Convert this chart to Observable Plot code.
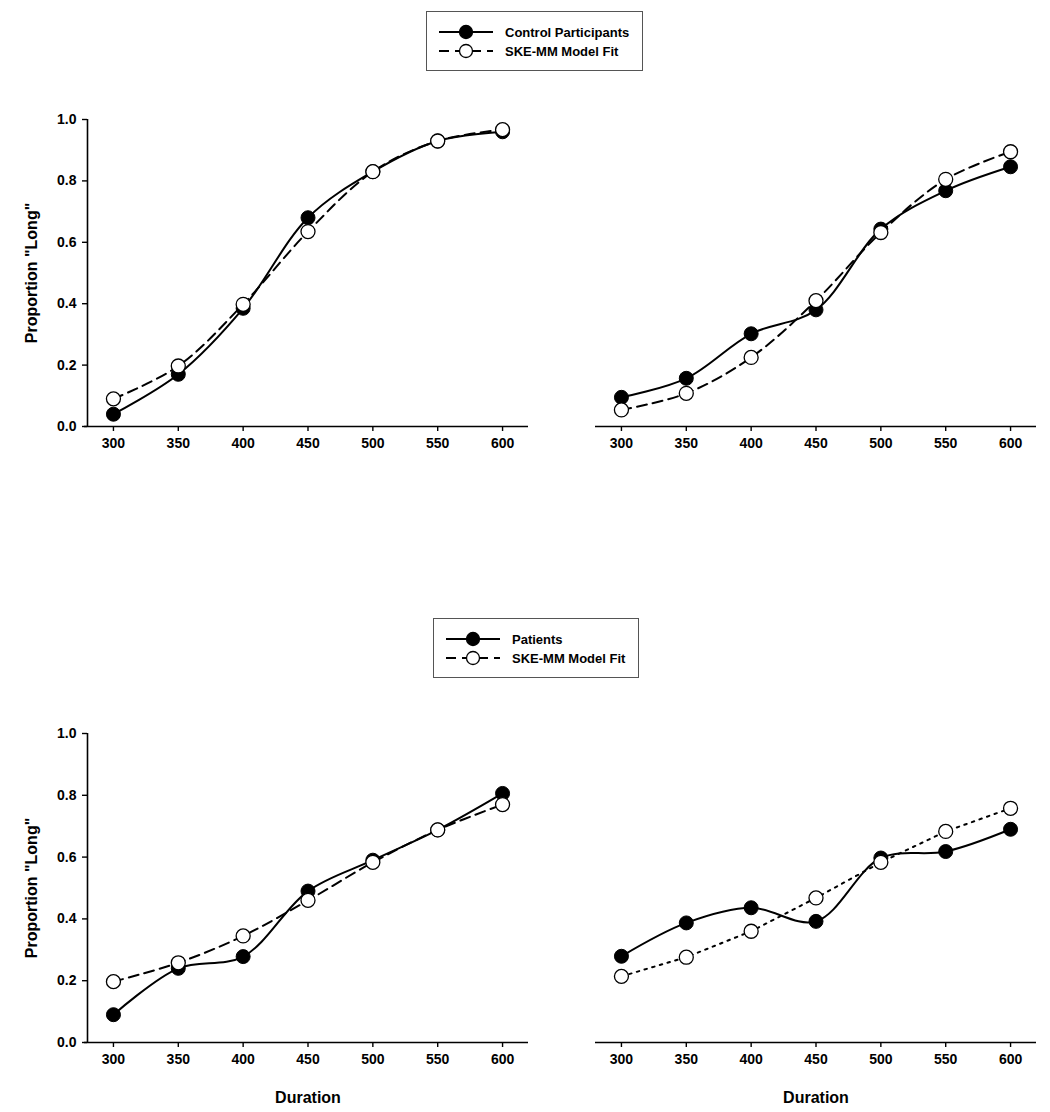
<!DOCTYPE html>
<html>
<head>
<meta charset="utf-8">
<script src="https://cdn.jsdelivr.net/npm/d3@7"></script>
<script src="https://cdn.jsdelivr.net/npm/@observablehq/plot@0.6"></script>
<style>
  html, body { margin: 0; padding: 0; background: #fff; }
  #root { position: relative; width: 1050px; height: 1112px; font-family: "Liberation Sans", Arial, sans-serif; background: #fff; }
  .panel { position: absolute; }
  .legend { position: absolute; border: 1px solid #555; background: #fff; box-sizing: border-box; font-weight: bold; font-size: 13px; color: #000; }
  .legend .row { position: absolute; left: 11px; display: flex; align-items: center; height: 20px; }
  .legend .row span { margin-left: 11px; }
</style>
</head>
<body>
<div id="root"></div>
<script>
// ---- data ----
const durations = [300, 350, 400, 450, 500, 550, 600];
const xTicks = [300, 350, 400, 450, 500, 550, 600];
const yTicks = [0, 0.2, 0.4, 0.6, 0.8, 1.0];

const controlLeft  = [0.040, 0.170, 0.385, 0.680, 0.830, 0.930, 0.960];
const modelCtrlLeft  = [0.090, 0.197, 0.398, 0.635, 0.830, 0.930, 0.967];
const controlRight = [0.095, 0.157, 0.302, 0.380, 0.643, 0.768, 0.846];
const modelCtrlRight = [0.054, 0.108, 0.225, 0.410, 0.632, 0.805, 0.895];

const patientsLeft  = [0.090, 0.240, 0.278, 0.490, 0.590, 0.688, 0.806];
const modelPatLeft  = [0.197, 0.258, 0.345, 0.460, 0.583, 0.688, 0.770];
const patientsRight = [0.279, 0.387, 0.436, 0.392, 0.597, 0.618, 0.690];
const modelPatRight = [0.214, 0.276, 0.360, 0.468, 0.583, 0.683, 0.758];

const legendTop = ["Control Participants", "SKE-MM Model Fit"];
const legendBottom = ["Patients", "SKE-MM Model Fit"];

const yLabel = 'Proportion "Long"';
const xLabel = "Duration";

const toRows = (vals) => durations.map((d, i) => ({ x: d, y: vals[i] }));

const root = document.getElementById("root");

function panel({obs, model, left, top, height, marginTop, marginBottom, showY, showXLabel, modelCurve, modelDash}) {
  const obsRows = toRows(obs);
  const modRows = toRows(model);
  const marks = [
    Plot.ruleY([0], {x1: showY ? 277.7 : 280, x2: 620, stroke: "#000", strokeWidth: 1.6}),
    Plot.axisX({ticks: xTicks, tickSize: 5, tickPadding: 7, tickFormat: d3.format("d"),
      fontSize: 14, fontWeight: "bold", stroke: "#000", strokeWidth: 1.4,
      label: showXLabel ? xLabel : null, labelAnchor: "center", labelArrow: "none", labelOffset: 60}),
    Plot.line(modRows, {x: "x", y: "y", curve: modelCurve, stroke: "#000", strokeWidth: 2, strokeDasharray: modelDash}),
    Plot.line(obsRows, {x: "x", y: "y", curve: "catmull-rom", stroke: "#000", strokeWidth: 2}),
    Plot.dot(obsRows, {x: "x", y: "y", r: 7, fill: "#000", stroke: "#000", strokeWidth: 1}),
    Plot.dot(modRows, {x: "x", y: "y", r: 7, fill: "#fff", stroke: "#000", strokeWidth: 1.3})
  ];
  if (showY) {
    marks.unshift(
      Plot.ruleX([280], {y1: 0, y2: 1, stroke: "#000", strokeWidth: 1.6}),
      Plot.axisY({ticks: yTicks, tickSize: 5, tickPadding: 6, tickFormat: d3.format(".1f"),
        fontSize: 14, fontWeight: "bold", stroke: "#000", strokeWidth: 1.4,
        label: yLabel, labelAnchor: "center", labelArrow: "none", labelOffset: 62})
    );
  }
  const chart = Plot.plot({
    width: 540,
    height,
    marginLeft: 87,
    marginRight: 12,
    marginTop,
    marginBottom,
    style: {fontFamily: '"Liberation Sans", Arial, sans-serif', color: "#000", background: "none", overflow: "visible"},
    x: {domain: [280, 620]},
    y: {domain: [0, 1], axis: showY ? undefined : null},
    marks
  });
  chart.classList.add("panel");
  chart.style.left = left + "px";
  chart.style.top = top + "px";
  root.appendChild(chart);
  chart.querySelectorAll('g[aria-label="y-axis label"], g[aria-label="x-axis label"]').forEach(g => {
    g.setAttribute("font-size", 16);
    g.setAttribute("font-weight", "bold");
  });
}

function legend(items, left, top, width, height) {
  const div = document.createElement("div");
  div.className = "legend";
  div.style.left = left + "px"; div.style.top = top + "px";
  div.style.width = width + "px"; div.style.height = height + "px";
  items.forEach((label, i) => {
    const row = document.createElement("div");
    row.className = "row";
    row.style.top = (10 + i * 19) + "px";
    const filled = i === 0;
    row.innerHTML = `<svg width="56" height="20"><line x1="1" x2="55" y1="10" y2="10" stroke="#000" stroke-width="2" ${filled ? "" : 'stroke-dasharray="10,6"'}/><circle cx="28" cy="10" r="6.5" fill="${filled ? "#000" : "#fff"}" stroke="#000" stroke-width="1.3"/></svg><span>${label}</span>`;
    div.appendChild(row);
  });
  root.appendChild(div);
}

panel({obs: controlRight, model: modelCtrlRight, left: 508, top: 90, height: 380, marginTop: 29, marginBottom: 44, showY: false, showXLabel: false, modelCurve: "catmull-rom", modelDash: "10,6"});
panel({obs: controlLeft, model: modelCtrlLeft, left: 0, top: 90, height: 380, marginTop: 29, marginBottom: 44, showY: true, showXLabel: false, modelCurve: "catmull-rom", modelDash: "10,6"});
panel({obs: patientsRight, model: modelPatRight, left: 508, top: 704, height: 408, marginTop: 29, marginBottom: 70, showY: false, showXLabel: true, modelCurve: "linear", modelDash: "2.5,5.5"});
panel({obs: patientsLeft, model: modelPatLeft, left: 0, top: 704, height: 408, marginTop: 29, marginBottom: 70, showY: true, showXLabel: true, modelCurve: "catmull-rom", modelDash: "10,6"});

legend(legendTop, 426, 11, 217, 60);
legend(legendBottom, 433, 618, 206, 60);
</script>
</body>
</html>
